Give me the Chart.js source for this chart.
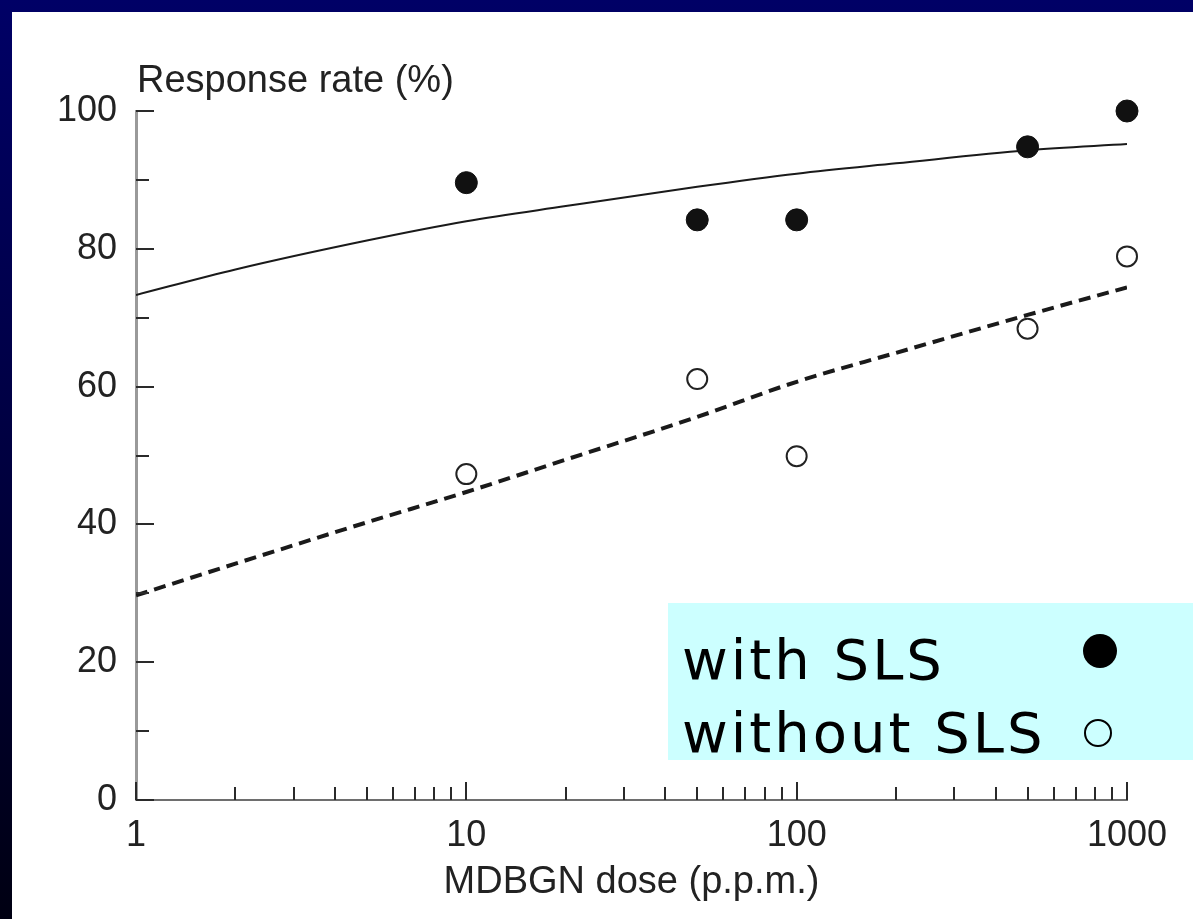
<!DOCTYPE html>
<html lang="en">
<head>
    <meta charset="UTF-8">
    <title>Response rate vs MDBGN dose</title>
    <script src="https://cdn.jsdelivr.net/npm/chart.js"></script>
    <style>
        html, body {
            margin: 0;
            padding: 0;
            width: 1193px;
            height: 919px;
            overflow: hidden;
            background: linear-gradient(to bottom, #000066 0%, #000040 50%, #000012 100%);
        }
        #panel {
            position: absolute;
            left: 12px;
            top: 12px;
            width: 1181px;
            height: 907px;
            background: #ffffff;
        }
        #legendBox {
            position: absolute;
            left: 668px;
            top: 603px;
            width: 525px;
            height: 157px;
            background: #ccffff;
            font-family: "Comic Sans MS", "DejaVu Sans", sans-serif;
            font-size: 56px;
            letter-spacing: 3px;
            color: #000;
        }
        .row {
            position: absolute;
            left: 14px;
            line-height: 60px;
            white-space: nowrap;
        }
        .r1 { top: 27px; }
        .r2 { top: 100px; }
        .dot {
            position: absolute;
            border-radius: 50%;
            box-sizing: border-box;
        }
        .dot.filled { left: 415px; top: 31px; width: 34px; height: 34px; background: #000; }
        .dot.open { left: 416px; top: 116px; width: 28px; height: 28px; border: 2.5px solid #000; }
    </style>
</head>
<body>
    <div id="panel">
        <canvas id="doseChart" width="1181" height="907"></canvas>
    </div>
    <div id="legendBox">
        <div class="row r1">with SLS</div>
        <div class="row r2">without SLS</div>
        <span class="dot filled"></span>
        <span class="dot open"></span>
    </div>

    <script>
        // measured points
        const doses = [10, 50, 100, 500, 1000];
        const withSLS = [89.6, 84.2, 84.2, 94.8, 100];
        const withoutSLS = [47.3, 61.1, 49.9, 68.4, 78.9];

        // fitted curves
        const curveDoses = [1, 2, 5, 10, 20, 50, 100, 200, 500, 1000];
        const fitWithSLS = [73.3, 77.0, 81.2, 84.0, 86.2, 89.0, 90.9, 92.4, 94.3, 95.2];
        const fitWithoutSLS = [29.7, 34.3, 40.3, 44.7, 49.4, 55.6, 60.7, 64.9, 70.4, 74.4];

        // axes
        const xLabels = [1, 10, 100, 1000];
        const xTicks = [1, 2, 3, 4, 5, 6, 7, 8, 9, 10, 20, 30, 40, 50, 60, 70, 80, 90,
                        100, 200, 300, 400, 500, 600, 700, 800, 900, 1000];
        const yLabels = [0, 20, 40, 60, 80, 100];
        const yTicks = [0, 10, 20, 30, 40, 50, 60, 70, 80, 90, 100];
        const xTitle = 'MDBGN dose (p.p.m.)';
        const yTitle = 'Response rate (%)';

        const toXY = (xs, ys) => xs.map((x, i) => ({ x: x, y: ys[i] }));
        const fontFamily = '"Liberation Sans", Arial, Helvetica, sans-serif';

        // inward tick marks and the y axis caption
        const axisTicks = {
            id: 'axisTicks',
            afterDraw(chart) {
                const { ctx, chartArea, scales: { x, y } } = chart;
                ctx.save();
                ctx.strokeStyle = '#2a2a2a';
                ctx.lineWidth = 2;
                xTicks.forEach(v => {
                    const px = Math.round(x.getPixelForValue(v));
                    const len = xLabels.includes(v) ? 18 : 13;
                    ctx.beginPath();
                    ctx.moveTo(px, chartArea.bottom);
                    ctx.lineTo(px, chartArea.bottom - len);
                    ctx.stroke();
                });
                yTicks.forEach(v => {
                    const py = Math.round(y.getPixelForValue(v));
                    const len = yLabels.includes(v) ? 18 : 13;
                    ctx.beginPath();
                    ctx.moveTo(chartArea.left, py);
                    ctx.lineTo(chartArea.left + len, py);
                    ctx.stroke();
                });
                ctx.fillStyle = '#222';
                ctx.font = '38px ' + fontFamily;
                ctx.textAlign = 'left';
                ctx.textBaseline = 'alphabetic';
                ctx.fillText(yTitle, chartArea.left + 1, chartArea.top - 19);
                ctx.restore();
            }
        };

        const ctx = document.getElementById('doseChart').getContext('2d');
        new Chart(ctx, {
            type: 'scatter',
            data: {
                datasets: [
                    {
                        label: 'with SLS',
                        data: toXY(doses, withSLS),
                        pointRadius: 11,
                        pointBackgroundColor: '#111',
                        pointBorderColor: '#111',
                        pointBorderWidth: 1,
                        clip: false
                    },
                    {
                        label: 'without SLS',
                        data: toXY(doses, withoutSLS),
                        pointRadius: 10,
                        pointBackgroundColor: '#fff',
                        pointBorderColor: '#222',
                        pointBorderWidth: 2,
                        clip: false
                    },
                    {
                        label: 'fit with SLS',
                        data: toXY(curveDoses, fitWithSLS),
                        showLine: true,
                        pointRadius: 0,
                        borderColor: '#1a1a1a',
                        borderWidth: 2,
                        cubicInterpolationMode: 'monotone'
                    },
                    {
                        label: 'fit without SLS',
                        data: toXY(curveDoses, fitWithoutSLS),
                        showLine: true,
                        pointRadius: 0,
                        borderColor: '#1a1a1a',
                        borderWidth: 4,
                        borderDash: [12, 7],
                        cubicInterpolationMode: 'monotone'
                    }
                ]
            },
            options: {
                responsive: false,
                animation: false,
                devicePixelRatio: 1,
                layout: { padding: { top: 99, right: 66, bottom: 0, left: 0 } },
                plugins: {
                    legend: { display: false },
                    tooltip: { enabled: false }
                },
                scales: {
                    x: {
                        type: 'logarithmic',
                        min: 1,
                        max: 1000,
                        grid: { display: false, drawTicks: false },
                        border: { display: true, color: '#6e6e6e', width: 2 },
                        afterBuildTicks: (scale) => { scale.ticks = xLabels.map(v => ({ value: v })); },
                        afterFit: (scale) => { scale.height = 119; },
                        ticks: {
                            autoSkip: false,
                            maxRotation: 0,
                            minRotation: 0,
                            padding: 14,
                            color: '#222',
                            font: { family: fontFamily, size: 36 },
                            callback: (v) => String(v)
                        },
                        title: {
                            display: true,
                            text: xTitle,
                            color: '#222',
                            font: { family: fontFamily, size: 38 },
                            padding: { top: 0, bottom: 14 }
                        }
                    },
                    y: {
                        min: 0,
                        max: 100,
                        grid: { display: false, drawTicks: false },
                        border: { display: true, color: '#9a9a9a', width: 3 },
                        afterBuildTicks: (scale) => { scale.ticks = yLabels.map(v => ({ value: v })); },
                        afterFit: (scale) => { scale.width = 124; },
                        ticks: {
                            padding: 19,
                            color: '#222',
                            font: { family: fontFamily, size: 36 }
                        }
                    }
                }
            },
            plugins: [axisTicks]
        });
    </script>
</body>
</html>
